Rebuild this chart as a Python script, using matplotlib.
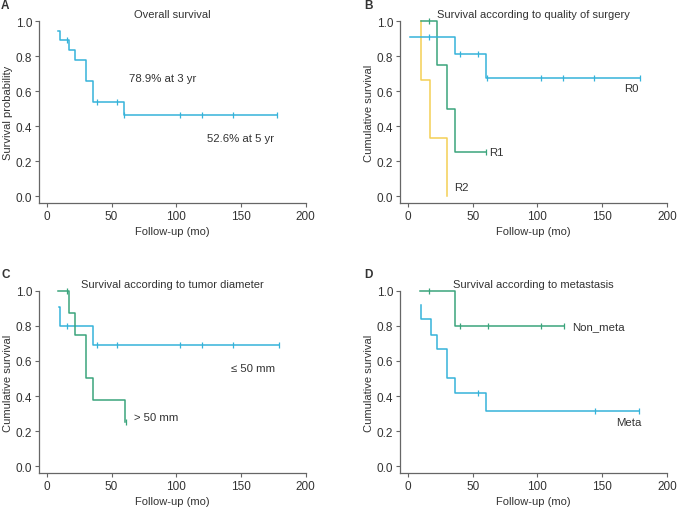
import matplotlib
matplotlib.use('Agg')
import matplotlib.pyplot as plt

plt.rcParams['font.family'] = ['Liberation Sans', 'DejaVu Sans']
plt.rcParams['font.size'] = 7.5

BLUE = '#35b3da'
GREEN = '#3ba47c'
YELLOW = '#f4cf55'
TXT = '#333333'

# A: overall survival
a_t = [9, 10, 17, 22, 30, 36, 60, 178]
a_s = [0.947, 0.895, 0.838, 0.778, 0.66, 0.538, 0.464, 0.464]
a_cens_t = [16, 39, 54, 60, 103, 120, 144, 178]
a_cens_s = [0.895, 0.538, 0.538, 0.464, 0.464, 0.464, 0.464, 0.464]

# B: quality of surgery
r0_t = [2, 36.5, 60.5, 179]
r0_s = [0.909, 0.812, 0.675, 0.675]
r0_cens_t = [16, 40, 54, 61, 103, 120, 144, 179]
r0_cens_s = [0.909, 0.812, 0.812, 0.675, 0.675, 0.675, 0.675, 0.675]
r1_t = [10, 22.5, 30, 36.5, 60.5]
r1_s = [1.0, 0.75, 0.5, 0.25, 0.25]
r1_cens_t = [16.5, 60.5]
r1_cens_s = [1.0, 0.25]
r2_t = [9.8, 10, 17, 30.3]
r2_s = [1.0, 0.667, 0.333, 0.0]

# C: tumor diameter
le50_t = [9.5, 10, 36, 179]
le50_s = [0.905, 0.8, 0.688, 0.688]
le50_cens_t = [16, 39, 54, 103, 120, 144, 179]
le50_cens_s = [0.8, 0.688, 0.688, 0.688, 0.688, 0.688, 0.688]
gt50_t = [9, 17, 21.5, 30, 35.5, 60.5]
gt50_s = [1.0, 0.875, 0.75, 0.5, 0.375, 0.25]
gt50_cens_t = [16, 61]
gt50_cens_s = [1.0, 0.25]

# D: metastasis
non_t = [9.3, 36.5, 120.5]
non_s = [1.0, 0.8, 0.8]
non_cens_t = [16.5, 40, 61.5, 103, 120.5]
non_cens_s = [1.0, 0.8, 0.8, 0.8, 0.8]
meta_t = [9.8, 10.3, 17.5, 22.6, 30.3, 36.5, 60.4, 178.5]
meta_s = [0.918, 0.838, 0.75, 0.667, 0.505, 0.419, 0.316, 0.316]
meta_cens_t = [54.5, 144.5, 178.5]
meta_cens_s = [0.419, 0.316, 0.316]


def km(ax, t, s, ct, cs, color):
    ax.step(t, s, where='post', color=color, lw=1.1, clip_on=False)
    if ct:
        ax.plot(ct, cs, ls='none', marker='|', ms=4, mew=0.9, color=color, clip_on=False)


def style(ax, title, ylabel):
    ax.set_xlim(-6, 200)
    ax.set_ylim(-0.04, 1.0)
    ax.set_xticks([0, 50, 100, 150, 200])
    ax.set_yticks([0.0, 0.2, 0.4, 0.6, 0.8, 1.0])
    ax.set_yticklabels(['0.0', '0.2', '0.4', '0.6', '0.8', '1.0'])
    for sp in ['top', 'right']:
        ax.spines[sp].set_visible(False)
    for sp in ['left', 'bottom']:
        ax.spines[sp].set_color('#666666')
        ax.spines[sp].set_linewidth(0.9)
    ax.tick_params(direction='out', length=3, width=0.8, color='#666666',
                   labelcolor=TXT, labelsize=8.5, pad=2)
    ax.set_xlabel('Follow-up (mo)', color=TXT, fontsize=8, labelpad=3)
    ax.set_ylabel(ylabel, color=TXT, fontsize=8, labelpad=2)
    ax.set_title(title, color=TXT, fontsize=8, pad=3)


W, H = 677, 510
fig = plt.figure(figsize=(6.77, 5.10), dpi=100)
axA = fig.add_axes([0.0576, 0.60, 0.394, 0.356])
axB = fig.add_axes([0.591, 0.60, 0.394, 0.356])
axC = fig.add_axes([0.0576, 0.07, 0.394, 0.358])
axD = fig.add_axes([0.591, 0.07, 0.394, 0.358])

# panel letters
for letter, px, py in [('A', 1, 6), ('B', 364, 6), ('C', 2, 275), ('D', 364, 275)]:
    fig.text(px / W, 1 - py / H, letter, fontsize=8.5, fontweight='bold',
             color=TXT, ha='left', va='center')

km(axA, a_t, a_s, a_cens_t, a_cens_s, BLUE)
style(axA, 'Overall survival', 'Survival probability')
axA.text(63.5, 0.677, '78.9% at 3 yr', fontsize=8.2, color=TXT, va='center')
axA.text(123.5, 0.33, '52.6% at 5 yr', fontsize=8.2, color=TXT, va='center')

km(axB, r2_t, r2_s, [], [], YELLOW)
km(axB, r1_t, r1_s, r1_cens_t, r1_cens_s, GREEN)
km(axB, r0_t, r0_s, r0_cens_t, r0_cens_s, BLUE)
style(axB, 'Survival according to quality of surgery', 'Cumulative survival')
axB.text(167, 0.62, 'R0', fontsize=8.2, color=TXT, va='center')
axB.text(63, 0.25, 'R1', fontsize=8.2, color=TXT, va='center')
axB.text(36, 0.05, 'R2', fontsize=8.2, color=TXT, va='center')

km(axC, le50_t, le50_s, le50_cens_t, le50_cens_s, BLUE)
km(axC, gt50_t, gt50_s, gt50_cens_t, gt50_cens_s, GREEN)
style(axC, 'Survival according to tumor diameter', 'Cumulative survival')
axC.text(142, 0.56, '\u2264 50 mm', fontsize=8.2, color=TXT, va='center')
axC.text(67, 0.28, '> 50 mm', fontsize=8.2, color=TXT, va='center')

km(axD, non_t, non_s, non_cens_t, non_cens_s, GREEN)
km(axD, meta_t, meta_s, meta_cens_t, meta_cens_s, BLUE)
style(axD, 'Survival according to metastasis', 'Cumulative survival')
axD.text(127, 0.8, 'Non_meta', fontsize=8.2, color=TXT, va='center')
axD.text(161, 0.255, 'Meta', fontsize=8.2, color=TXT, va='center')

fig.savefig('out.png', dpi=100)
